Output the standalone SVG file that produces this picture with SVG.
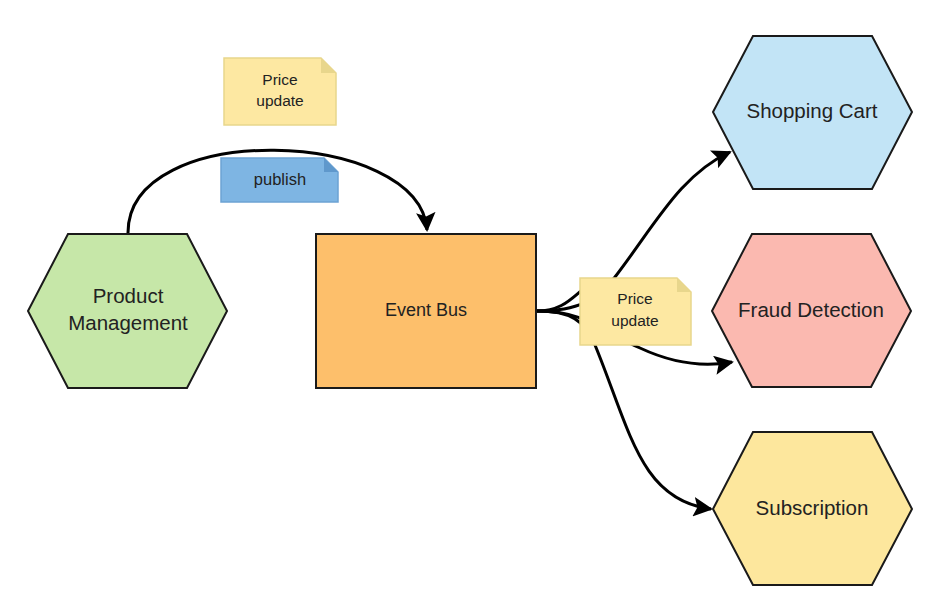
<svg xmlns="http://www.w3.org/2000/svg" width="939" height="607" viewBox="0 0 939 607">
<style>
.hex{stroke:#1a1a1a;stroke-width:2}
.t{font-family:"Liberation Sans",Arial,sans-serif;fill:#222;text-anchor:middle}
.big{font-size:20.5px}
.mid{font-size:18px}
.sm{font-size:15.5px}
.c{fill:none;stroke:#000;stroke-width:3}
</style>
<defs>
<marker id="ah" viewBox="0 0 10 10" refX="9" refY="5" markerWidth="6.5" markerHeight="6.5" markerUnits="strokeWidth" orient="auto">
<path d="M0,0 L10,5 L0,10 L2,5 z" fill="#000"/>
</marker>
</defs>
<rect width="939" height="607" fill="#fff"/>
<g id="connectors">
<path class="c" d="M128,234 C126,118 420,128 427,230" marker-end="url(#ah)"/>
<path class="c" d="M537,311 C580,311 595,300 615,277 C655,225 680,175 730,152" marker-end="url(#ah)"/>
<path class="c" d="M537,311 C585,311 600,330 640,348 C670,362 700,368 732,362" marker-end="url(#ah)"/>
<path class="c" d="M537,311 C570,311 585,320 595,345 C630,430 640,500 711,509" marker-end="url(#ah)"/>
<path class="c" d="M537,311 C560,311 570,300 582,290"/>
</g>
<g id="product-management">
<polygon class="hex" points="28,311 68,234 187,234 227,311 187,388 68,388" fill="#c6e7a8"/>
<text class="t big" x="128" y="303">Product</text>
<text class="t big" x="128" y="330">Management</text>
</g>
<g id="event-bus">
<rect class="hex" x="316" y="234" width="220" height="154" fill="#fdbf6b"/>
<text class="t mid" x="426" y="316">Event Bus</text>
</g>
<g id="shopping-cart">
<polygon class="hex" points="713,112 753,36 872,36 912,112 872,189 753,189" fill="#c2e4f6"/>
<text class="t big" x="812" y="118">Shopping Cart</text>
</g>
<g id="fraud-detection">
<polygon class="hex" points="712,311 752,234 871,234 911,311 871,387 752,387" fill="#fbb9b0"/>
<text class="t big" x="811" y="317">Fraud Detection</text>
</g>
<g id="subscription">
<polygon class="hex" points="713,509 753,432 872,432 912,509 872,585 753,585" fill="#fde79d"/>
<text class="t big" x="812" y="515">Subscription</text>
</g>
<g id="note-price-top">
<path d="M224,58 L321,58 L336,73 L336,125 L224,125 Z" fill="#fde8a2" stroke="#e8d68c" stroke-width="1.5"/>
<path d="M321,58 L321,73 L336,73 Z" fill="#e8d68c"/>
<text class="t sm" x="280" y="85">Price</text>
<text class="t sm" x="280" y="106">update</text>
</g>
<g id="note-publish">
<path d="M221,158 L324,158 L338,172 L338,202 L221,202 Z" fill="#7eb5e3" stroke="#6ca2d4" stroke-width="1.5"/>
<path d="M324,158 L324,172 L338,172 Z" fill="#5f98cc"/>
<text class="t" style="font-size:16.5px" x="280" y="185">publish</text>
</g>
<g id="note-price-right">
<path d="M580,278 L677,278 L691,292 L691,345 L580,345 Z" fill="#fde8a2" stroke="#e8d68c" stroke-width="1.5"/>
<path d="M677,278 L677,292 L691,292 Z" fill="#e8d68c"/>
<text class="t sm" x="635" y="304">Price</text>
<text class="t sm" x="635" y="326">update</text>
</g>
</svg>
